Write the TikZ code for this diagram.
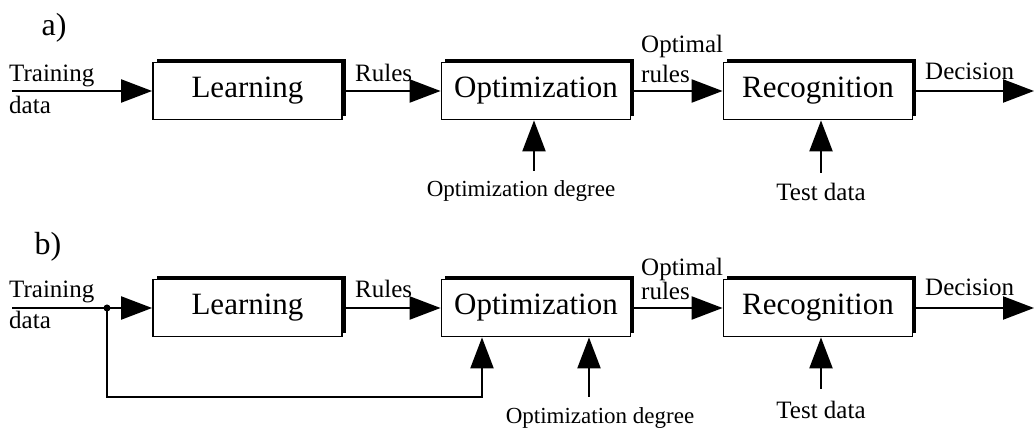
\documentclass[tikz,border=0pt]{standalone}
\usepackage{fontspec}
\setmainfont{Liberation Serif}
\usetikzlibrary{arrows.meta,shadows,calc}
\tikzset{
  blk/.style={draw, line width=1.8pt, fill=white, minimum width=189pt, minimum height=57pt,
    inner sep=0pt, font=\fontsize{31}{34}\selectfont,
    drop shadow={shadow xshift=3.5pt, shadow yshift=3.5pt, opacity=1, fill=black}},
  lbl/.style={inner sep=0pt, font=\fontsize{25}{28}\selectfont},
  deglbl/.style={lbl, font=\fontsize{23}{26}\selectfont},
  tag/.style={inner sep=0pt, font=\fontsize{32}{36}\selectfont},
  arr/.style={line width=2.2pt, -{Triangle[length=31pt,width=23pt]}},
  ln/.style={line width=2.2pt},
}
\begin{document}
\begin{tikzpicture}[x=1pt,y=-1pt]
\useasboundingbox (0,0) rectangle (1034,430);

% ---------- (a) sequential scheme ----------
\node[tag] (ta) at (54,28) {a)};
\node[blk] (learnA) at (247.5,91) {Learning};
\node[blk] (optA)   at (536,91)   {Optimization};
\node[blk] (recA)   at (818,91)   {Recognition};

\node[lbl, anchor=base west] (trainA1) at (9,82)  {Training};
\node[lbl, anchor=base west] (trainA2) at (9,114) {data};
\coordinate (inA) at (12,91);
\draw[arr] (inA) -- (learnA.west);

\node[lbl, anchor=base west] (rulesA) at (355,82) {Rules};
\draw[arr] (learnA.east) -- (optA.west);

\node[lbl, anchor=base west] (optimalA) at (641,53) {Optimal};
\node[lbl, anchor=base west] (orulesA)  at (641,83) {rules};
\draw[arr] (optA.east) -- (recA.west);

\node[lbl, anchor=base west] (decA) at (925,80) {Decision};
\coordinate (outA) at (1034,91);
\draw[arr] (recA.east) -- (outA);

\node[deglbl, anchor=base] (degA) at (521,197) {Optimization degree};
\coordinate (degInA) at (534,171);
\draw[arr] (degInA) -- (degInA |- optA.south);

\node[lbl, anchor=base] (testA) at (821,201) {Test data};
\coordinate (testInA) at (821,173);
\draw[arr] (testInA) -- (testInA |- recA.south);

% ---------- (b) optimization fed with training data ----------
\node[tag] (tb) at (48,247) {b)};
\node[blk] (learnB) at (247.5,308) {Learning};
\node[blk] (optB)   at (536,308)   {Optimization};
\node[blk] (recB)   at (818,308)   {Recognition};

\node[lbl, anchor=base west] (trainB1) at (9,298) {Training};
\node[lbl, anchor=base west] (trainB2) at (9,329) {data};
\coordinate (inB) at (12,308);
\coordinate (splitB) at (107,308);
\draw[ln] (inB) -- (splitB);
\draw[arr] (splitB) -- (learnB.west);
\fill (splitB) circle (3.5pt);

\coordinate (fbB) at (482,397);
\draw[arr] (splitB) |- (fbB) -- (fbB |- optB.south);

\node[lbl, anchor=base west] (rulesB) at (355,298) {Rules};
\draw[arr] (learnB.east) -- (optB.west);

\node[lbl, anchor=base west] (optimalB) at (641,276) {Optimal};
\node[lbl, anchor=base west] (orulesB)  at (641,300) {rules};
\draw[arr] (optB.east) -- (recB.west);

\node[lbl, anchor=base west] (decB) at (925,296) {Decision};
\coordinate (outB) at (1034,308);
\draw[arr] (recB.east) -- (outB);

\node[deglbl, anchor=base] (degB) at (600,424) {Optimization degree};
\coordinate (degInB) at (589,397);
\draw[arr] (degInB) -- (degInB |- optB.south);

\node[lbl, anchor=base] (testB) at (821,418) {Test data};
\coordinate (testInB) at (821,389);
\draw[arr] (testInB) -- (testInB |- recB.south);
\end{tikzpicture}
\end{document}
